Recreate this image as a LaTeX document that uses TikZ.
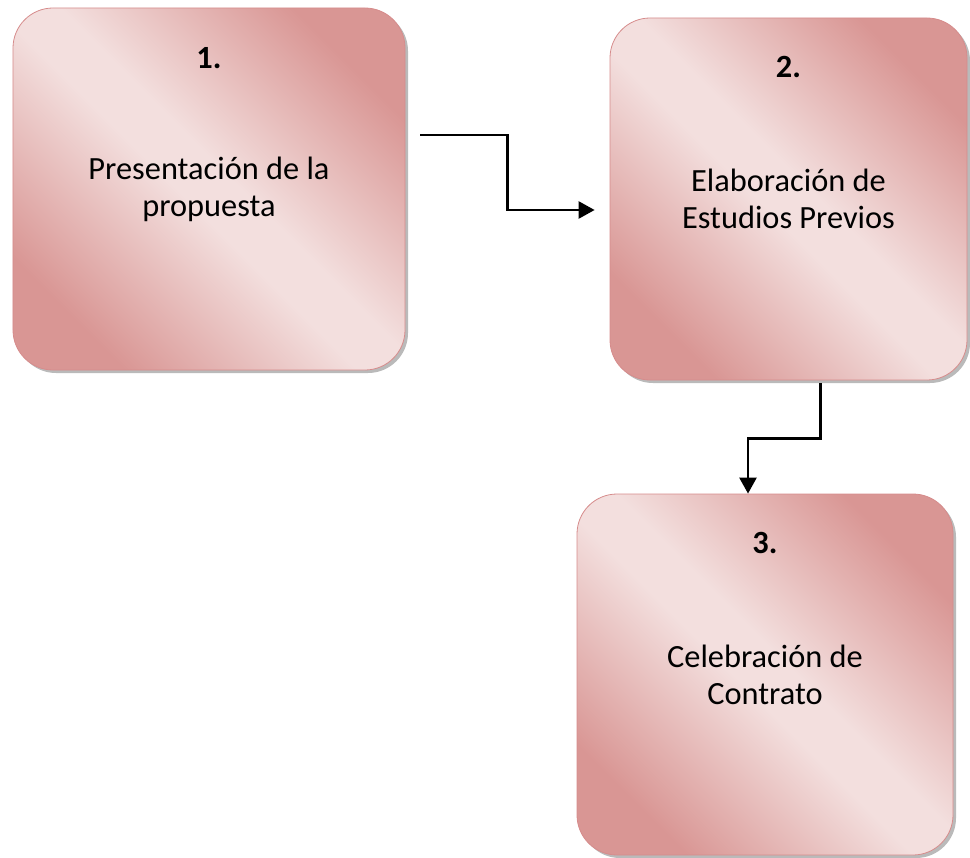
\documentclass[tikz,border=0pt]{standalone}
\usepackage{fontspec}
\setmainfont{Carlito}
\usetikzlibrary{
    arrows.meta,
    shadows,
    calc,
    positioning,
}
\definecolor{roseDark}{RGB}{217,150,148}
\definecolor{roseLight}{RGB}{243,223,222}
\definecolor{roseEdge}{RGB}{214,140,140}
\pgfdeclarehorizontalshading{roseShade}{100bp}{color(0bp)=(roseDark); color(25bp)=(roseDark); color(47bp)=(roseLight); color(53bp)=(roseLight); color(75bp)=(roseDark); color(100bp)=(roseDark)}

\begin{document}
\begin{tikzpicture}[x=1bp,y=-1bp,>={Triangle[length=16bp,width=17bp]}]

    \tikzstyle{commonNode}=[align=center, font=\fontsize{32.5}{37}\selectfont]
    \tikzstyle{stageBox}=[commonNode, rectangle, rounded corners=40bp, draw=roseEdge, line width=0.8bp, shading=roseShade, shading angle=45, drop shadow={shadow xshift=3bp, shadow yshift=-3bp, fill=black!45, opacity=0.6}]
    \tikzstyle{stageNum}=[commonNode, font=\fontsize{32.5}{37}\selectfont\bfseries]
    \tikzstyle{link}=[->, line width=2.5bp]

    \useasboundingbox (0,0) rectangle (970,858);

    % Boxes
    \node at (209,189)   [stageBox, minimum width=392bp, minimum height=362bp] (P) {Presentación de la\\propuesta};
    \node at (788.5,199) [stageBox, minimum width=357bp, minimum height=362bp] (E) {Elaboración de\\Estudios Previos};
    \node at (765,674.5) [stageBox, minimum width=376bp, minimum height=361bp] (C) {Celebración de\\Contrato};

    % Numbers
    \node at ($(P.north)+(0,50)$) [stageNum] (Pnum) {1.};
    \node at ($(E.north)+(0,49)$) [stageNum] (Enum) {2.};
    \node at ($(C.north)+(0,49)$) [stageNum] (Cnum) {3.};

    % Arrows
    \coordinate (Pout) at ($(P.east)+(15,-54)$);
    \draw[link] (Pout) -- ++(87,0) |- ($(E.west)+(-15,11)$);
    \draw[link] ($(E.south)+(32,3)$) -- ++(0,55) -| ($(C.north)+(-17,0)$);

\end{tikzpicture}
\end{document}
